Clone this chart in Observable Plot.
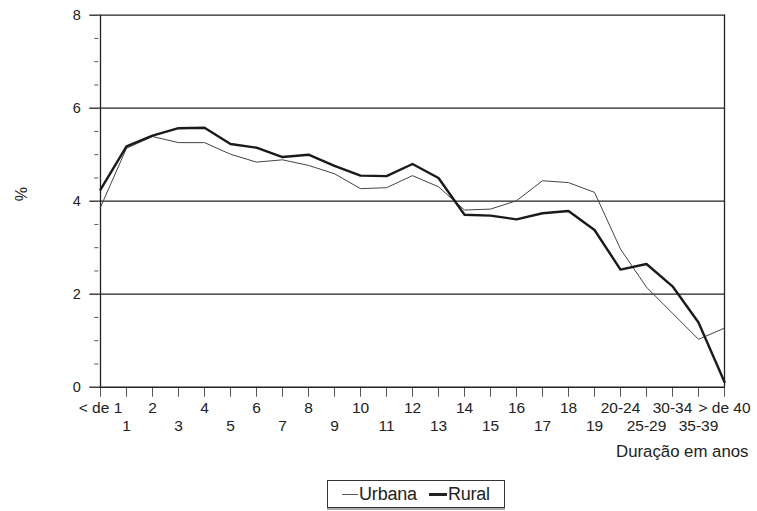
<!DOCTYPE html>
<html>
<head>
<meta charset="utf-8">
<script src="https://cdn.jsdelivr.net/npm/d3@7"></script>
<script src="https://cdn.jsdelivr.net/npm/@observablehq/plot@0.6"></script>
<style>
  body { margin: 0; background: #fff; font-family: "Liberation Sans", Arial, sans-serif; }
  #legend { position: absolute; left: 327px; top: 480px; width: 178px; height: 28px; border: 1px solid #333;
    box-shadow: 0 2px 0 #aaa; display: flex; align-items: center; justify-content: center; gap: 12px; font-size: 18px; color: #222; box-sizing: border-box; letter-spacing: -0.2px; }
  .item { display: flex; align-items: center; }
  .sw { display: inline-block; width: 16px; margin-right: 1px; background: #222; }
</style>
</head>
<body>
<div id="chart"></div>
<div id="legend">
  <span class="item"><span class="sw" style="height:1px;background:#555"></span>Urbana</span>
  <span class="item"><span class="sw" style="height:3px;width:18px"></span>Rural</span>
</div>
<script>
const categories = ["< de 1","1","2","3","4","5","6","7","8","9","10","11","12","13","14","15","16","17","18","19","20-24","25-29","30-34","35-39","> de 40"];
const urbana = [3.87,5.14,5.39,5.26,5.26,5.01,4.84,4.89,4.77,4.59,4.27,4.29,4.55,4.31,3.81,3.83,4.01,4.44,4.40,4.19,2.97,2.15,1.59,1.03,1.27];
const rural  = [4.25,5.18,5.41,5.57,5.58,5.23,5.15,4.95,5.00,4.76,4.55,4.54,4.80,4.50,3.71,3.69,3.61,3.74,3.79,3.38,2.53,2.65,2.17,1.39,0.11];
const yGrid = [2,4,6,8];
const yMinor = d3.range(0, 8.01, 0.5).filter(v => v % 2 !== 0);
const xLabelsRow1 = categories.filter((c, i) => i % 2 === 0);
const xLabelsRow2 = categories.filter((c, i) => i % 2 === 1);

const data = [
  ...categories.map((c, i) => ({cat: c, value: urbana[i], serie: "Urbana"})),
  ...categories.map((c, i) => ({cat: c, value: rural[i], serie: "Rural"}))
];

const chart = Plot.plot({
  width: 757,
  height: 468,
  marginLeft: 98.3,
  marginRight: 32,
  marginTop: 14.7,
  marginBottom: 81.3,
  style: { fontFamily: '"Liberation Sans", Arial, sans-serif', fontSize: "15px", color: "#222" },
  x: { type: "point", domain: categories, padding: 0 },
  y: { domain: [0, 8] },
  marks: [
    Plot.ruleY(yGrid, { stroke: "#222", strokeWidth: 1.3 }),
    Plot.axisY({ ticks: yGrid.concat([0]), tickSize: 9, tickPadding: 9, label: null, stroke: "#222", strokeWidth: 1.3, fontSize: 14.5 }),
    Plot.axisY({ ticks: yMinor, tickSize: 4, tickFormat: () => "", label: null, stroke: "#555" }),
    Plot.axisX({ ticks: xLabelsRow1, tickSize: 10, tickPadding: 5, label: null, stroke: "#555", fontSize: 15.5 }),
    Plot.axisX({ ticks: xLabelsRow2, tickSize: 10, tickPadding: 23, label: null, stroke: "#555", fontSize: 15.5 }),
    Plot.ruleX([categories[0]], { stroke: "#222", strokeWidth: 1.3 }),
    Plot.ruleX([categories[categories.length - 1]], { stroke: "#222", strokeWidth: 1.3 }),
    Plot.ruleY([0], { stroke: "#222", strokeWidth: 1.5 }),
    Plot.line(data.filter(d => d.serie === "Urbana"), { x: "cat", y: "value", stroke: "#444", strokeWidth: 1 }),
    Plot.line(data.filter(d => d.serie === "Rural"), { x: "cat", y: "value", stroke: "#1a1a1a", strokeWidth: 2.4 }),
    Plot.text(["Duração em anos"], { frameAnchor: "bottom-right", dx: 23, dy: 69.5, textAnchor: "end", fontSize: 16.8, fill: "#222" }),
    Plot.text(["%"], { frameAnchor: "left", dx: -77, rotate: -90, fontSize: 16, fill: "#222" })
  ]
});
document.getElementById("chart").appendChild(chart);
</script>
</body>
</html>
